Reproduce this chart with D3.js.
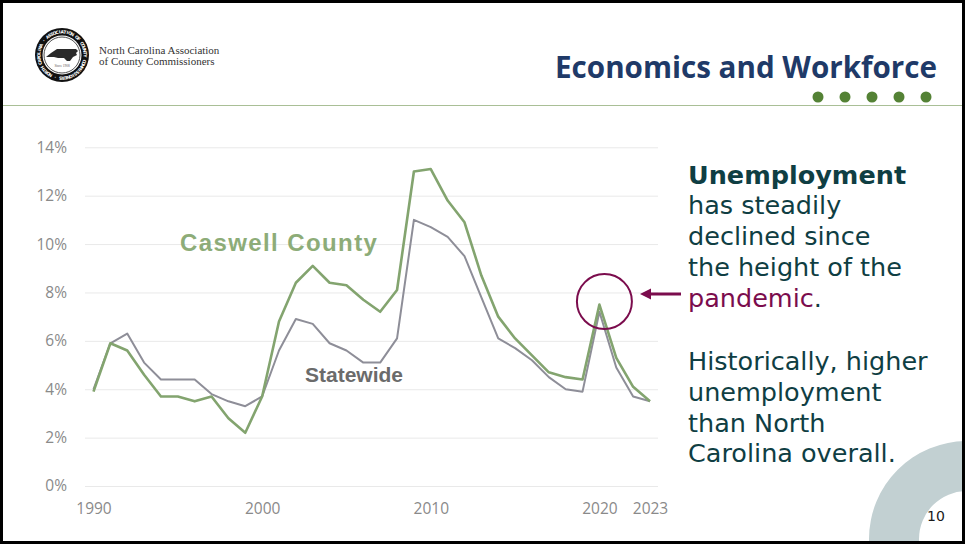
<!DOCTYPE html>
<html>
<head>
<meta charset="utf-8">
<script src="https://cdn.jsdelivr.net/npm/d3@7"></script>
<style>
  html, body { margin: 0; padding: 0; background: #ffffff; }
  svg { display: block; }
</style>
</head>
<body>
<svg id="slide" width="965" height="544"></svg>
<script>
// Unemployment rate, annual averages (%)
const years = [1990, 1991, 1992, 1993, 1994, 1995, 1996, 1997, 1998, 1999,
               2000, 2001, 2002, 2003, 2004, 2005, 2006, 2007, 2008, 2009,
               2010, 2011, 2012, 2013, 2014, 2015, 2016, 2017, 2018, 2019,
               2020, 2021, 2022, 2023];
const caswell = [3.9, 5.9, 5.6, 4.6, 3.7, 3.7, 3.5, 3.7, 2.8, 2.2,
                 3.7, 6.8, 8.4, 9.1, 8.4, 8.3, 7.7, 7.2, 8.1, 13.0,
                 13.1, 11.8, 10.9, 8.7, 7.0, 6.1, 5.4, 4.7, 4.5, 4.4,
                 7.5, 5.3, 4.1, 3.5];
const statewide = [4.0, 5.9, 6.3, 5.1, 4.4, 4.4, 4.4, 3.8, 3.5, 3.3,
                   3.7, 5.6, 6.9, 6.7, 5.9, 5.6, 5.1, 5.1, 6.1, 11.0,
                   10.7, 10.3, 9.5, 7.8, 6.1, 5.7, 5.2, 4.5, 4.0, 3.9,
                   7.2, 4.9, 3.7, 3.5];
const yTicks = [0, 2, 4, 6, 8, 10, 12, 14];
const xTicks = [1990, 2000, 2010, 2020, 2023];
const seriesNames = ["Caswell County", "Statewide"];
const noteBold = "Unemployment";
const noteLines = ["has steadily", "declined since", "the height of the"];
const noteHighlight = "pandemic";
const noteLines2 = ["Historically, higher", "unemployment", "than North", "Carolina overall."];

const svg = d3.select("#slide");
const W = 965, H = 544;

svg.append("rect").attr("width", W).attr("height", H).attr("fill", "#ffffff");

// ---- decorative quarter ring, bottom right ----
const ringArc = d3.arc().innerRadius(48).outerRadius(98).startAngle(0).endAngle(2 * Math.PI);
svg.append("path")
  .attr("transform", "translate(967,539)")
  .attr("d", ringArc())
  .attr("fill", "#c2d0d2");
svg.append("text")
  .attr("x", 936).attr("y", 521)
  .attr("text-anchor", "middle")
  .attr("font-family", "DejaVu Sans, sans-serif")
  .attr("font-size", 14)
  .attr("fill", "#1a1a1a")
  .text("10");

// ---- header: association seal ----
const logo = svg.append("g").attr("transform", "translate(62,55)");
logo.append("circle").attr("r", 27).attr("fill", "#111");
logo.append("circle").attr("r", 19.5).attr("fill", "#fff");
logo.append("circle").attr("r", 18).attr("fill", "none").attr("stroke", "#222").attr("stroke-width", 0.8);
// ring lettering, one glyph at a time around the band
const ringText = "NORTH CAROLINA · ASSOCIATION OF COUNTY COMMISSIONERS · ".split("");
const ringStep = 360 / ringText.length;
logo.append("g").selectAll("text")
  .data(ringText)
  .join("text")
  .attr("transform", (d, i) => `rotate(${-150 + i * ringStep}) translate(0,-21.6)`)
  .attr("text-anchor", "middle")
  .attr("font-family", "DejaVu Sans, sans-serif")
  .attr("font-size", 4.4)
  .attr("font-weight", "bold")
  .attr("fill", "#fff")
  .text(d => d);
// state silhouette inside the seal
logo.append("path")
  .attr("d", "M -16,2 L -11,-2 L -8,-4 L -5,-6 L 14,-6 L 16,-4 L 14,-2 L 15,0 L 11,2 L 8,6 L 5,6 L 2,3 L -4,3 L -8,2 Z")
  .attr("fill", "#2a2a2a");
logo.append("text")
  .attr("y", 12).attr("text-anchor", "middle")
  .attr("font-family", "Liberation Serif, serif")
  .attr("font-size", 3.4).attr("fill", "#555")
  .text("Since 1908");

const org = svg.append("g")
  .attr("font-family", "Liberation Serif, serif")
  .attr("font-size", 11)
  .attr("fill", "#333");
org.append("text").attr("x", 99).attr("y", 54).text("North Carolina Association");
org.append("text").attr("x", 99).attr("y", 65).text("of County Commissioners");

svg.append("text")
  .attr("x", 937).attr("y", 78)
  .attr("text-anchor", "end")
  .attr("font-family", "Open Sans, sans-serif")
  .attr("font-weight", 700)
  .attr("font-size", 29.6)
  .attr("fill", "#1f3a68")
  .text("Economics and Workforce");

svg.append("g").selectAll("circle")
  .data(d3.range(5))
  .join("circle")
  .attr("cx", d => 818 + d * 27)
  .attr("cy", 97)
  .attr("r", 5.5)
  .attr("fill", "#548235");

svg.append("line")
  .attr("x1", 3).attr("x2", 962)
  .attr("y1", 105.5).attr("y2", 105.5)
  .attr("stroke", "#a9bf96").attr("stroke-width", 1.2);

// ---- chart ----
const x = d3.scaleLinear().domain([1990, 2023]).range([93.5, 650]);
const y = d3.scaleLinear().domain([0, 14]).range([486, 147.3]);
const gridLeft = 85, gridRight = 658;

const yAxis = svg.append("g")
  .attr("transform", `translate(${gridLeft},0)`)
  .call(d3.axisLeft(y)
    .tickValues(yTicks)
    .tickSize(-(gridRight - gridLeft))
    .tickPadding(18)
    .tickFormat(d => d + "%"));
yAxis.select(".domain").remove();
yAxis.selectAll(".tick line").attr("stroke", "#e9e9e9").attr("stroke-width", 1);
yAxis.selectAll(".tick text")
  .attr("font-family", "Open Sans, sans-serif")
  .attr("font-size", 15.5)
  .attr("fill", "#8a8a8a");

const xAxis = svg.append("g")
  .attr("transform", "translate(0,486)")
  .call(d3.axisBottom(x)
    .tickValues(xTicks)
    .tickSize(0)
    .tickPadding(17)
    .tickFormat(d3.format("d")));
xAxis.select(".domain").remove();
xAxis.selectAll(".tick text")
  .attr("font-family", "Open Sans, sans-serif")
  .attr("font-size", 15.5)
  .attr("fill", "#8a8a8a");

const line = d3.line()
  .x((d, i) => x(years[i]))
  .y(d => y(d));

svg.append("path")
  .datum(statewide)
  .attr("d", line)
  .attr("fill", "none")
  .attr("stroke", "#8e8e98")
  .attr("stroke-width", 2)
  .attr("stroke-linejoin", "round");

svg.append("path")
  .datum(caswell)
  .attr("d", line)
  .attr("fill", "none")
  .attr("stroke", "#83a46f")
  .attr("stroke-width", 2.6)
  .attr("stroke-linejoin", "round");

// series labels
svg.append("text")
  .attr("x", 180).attr("y", 251)
  .attr("font-family", "Liberation Sans, Arial, sans-serif")
  .attr("font-weight", 700)
  .attr("font-size", 24)
  .attr("letter-spacing", 1.4)
  .attr("fill", "#8dac78")
  .text(seriesNames[0]);
svg.append("text")
  .attr("x", 305).attr("y", 382)
  .attr("font-family", "Liberation Sans, Arial, sans-serif")
  .attr("font-weight", 700)
  .attr("font-size", 21)
  .attr("fill", "#6b6b6b")
  .text(seriesNames[1]);

// pandemic highlight
const i2020 = years.indexOf(2020);
const maroon = "#7b0c4d";
svg.append("circle")
  .attr("cx", x(2020) + 5)
  .attr("cy", y(caswell[i2020]) - 3)
  .attr("r", 27.5)
  .attr("fill", "none")
  .attr("stroke", maroon)
  .attr("stroke-width", 2);
svg.append("line")
  .attr("x1", 681).attr("x2", 648)
  .attr("y1", 294).attr("y2", 294)
  .attr("stroke", maroon).attr("stroke-width", 3);
svg.append("path")
  .attr("d", "M 640,294 L 651,288.5 L 651,299.5 Z")
  .attr("fill", maroon);

// ---- commentary ----
const note = svg.append("text")
  .attr("font-family", "DejaVu Sans, Verdana, sans-serif")
  .attr("font-size", 25.5)
  .attr("fill", "#0f3e43");
const lh = 30.8;
let yy = 183.5;
note.append("tspan").attr("x", 688).attr("y", yy).attr("font-weight", 700).text(noteBold);
noteLines.forEach(t => { yy += lh; note.append("tspan").attr("x", 688).attr("y", yy).text(t); });
yy += lh;
note.append("tspan").attr("x", 688).attr("y", yy).attr("fill", "#7b0c4d").text(noteHighlight);
note.append("tspan").text(".");
yy = 370;
noteLines2.forEach((t, k) => {
  note.append("tspan").attr("x", 688).attr("y", yy + k * lh).text(t);
});

// slide frame
svg.append("rect")
  .attr("x", 1.5).attr("y", 1.5)
  .attr("width", W - 3).attr("height", H - 3)
  .attr("fill", "none")
  .attr("stroke", "#000").attr("stroke-width", 3);
</script>
</body>
</html>
